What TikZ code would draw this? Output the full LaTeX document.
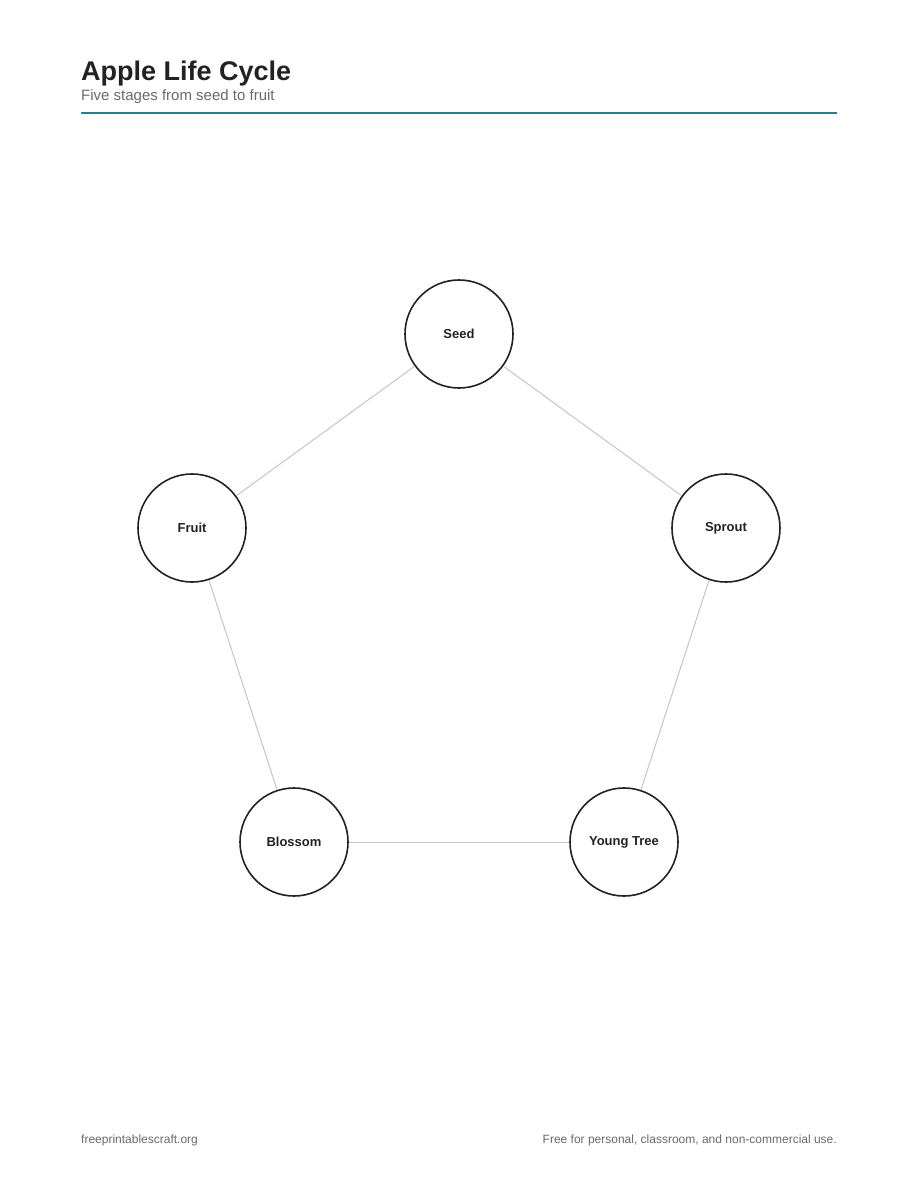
\documentclass[tikz,border=0pt]{standalone}
\usepackage{fontspec}
\setmainfont{Liberation Sans}
\definecolor{ink}{HTML}{222222}
\definecolor{subgray}{HTML}{6A6A6A}
\definecolor{teal}{HTML}{2A7F8F}
\definecolor{edgec}{HTML}{C9C5B9}
\begin{document}
\begin{tikzpicture}[x=1pt,y=-1pt,
  stage/.style={circle,draw=ink,line width=1.6pt,minimum size=108pt,inner sep=0pt,
    text=ink,font=\fontsize{13}{15}\selectfont\bfseries},
  link/.style={draw=edgec,line width=1pt},
  foot/.style={font=\fontsize{12}{14}\selectfont,text=subgray,inner sep=0pt}]
\useasboundingbox (0,0) rectangle (918,1188);
\fill[white] (0,0) rectangle (918,1188);
\node[anchor=base west,inner sep=0pt,text=ink,font=\fontsize{27}{31}\selectfont\bfseries] (title) at (81,81) {Apple Life Cycle};
\node[anchor=base west,inner sep=0pt,text=subgray,font=\fontsize{15}{18}\selectfont] (sub) at (81,101) {Five stages from seed to fruit};
\coordinate (r1) at (81,113);
\coordinate (r2) at (837,113);
\draw[teal,line width=2.2pt] (r1) -- (r2);
\node[stage] (seed) at (459,334) {Seed};
\node[stage] (sprout) at (726,528) {Sprout};
\node[stage] (young) at (624,842) {Young Tree};
\node[stage] (blossom) at (294,842) {Blossom};
\node[stage] (fruit) at (192,528) {Fruit};
\draw[link] (seed) -- (sprout);
\draw[link] (sprout) -- (young);
\draw[link] (young) -- (blossom);
\draw[link] (blossom) -- (fruit);
\draw[link] (fruit) -- (seed);
\node[foot,anchor=base west] (fl) at (81,1143) {freeprintablescraft.org};
\node[foot,anchor=base east] (fr) at (837,1143) {Free for personal, classroom, and non-commercial use.};
\end{tikzpicture}
\end{document}
